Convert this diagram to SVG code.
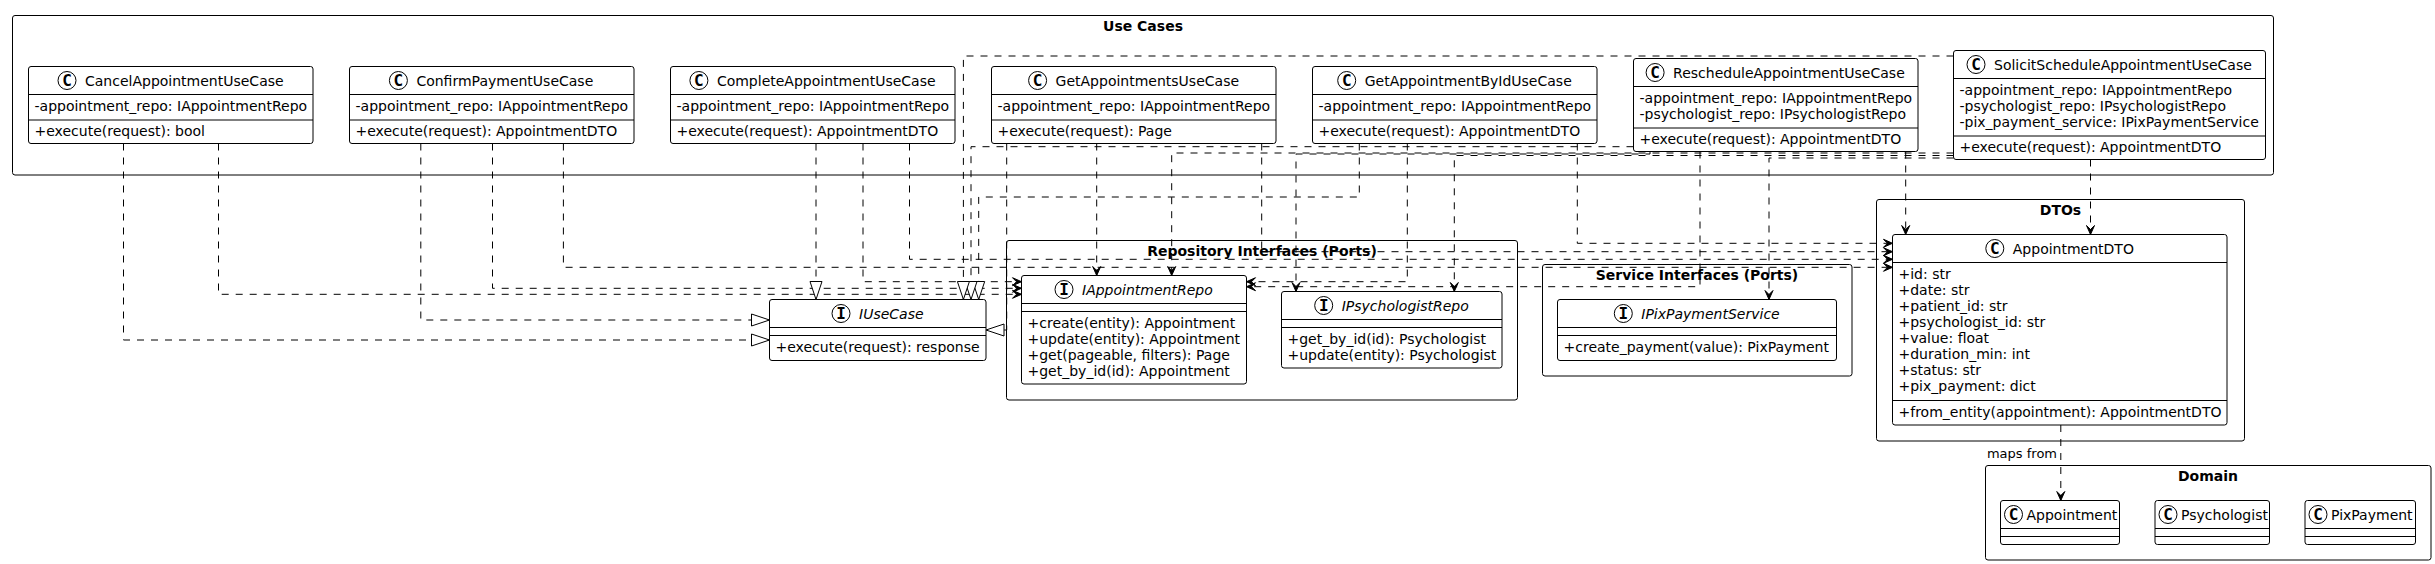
<svg xmlns="http://www.w3.org/2000/svg" width="2435" height="564" viewBox="0 0 2435 564">
<defs>
<style>
text { font-family: "DejaVu Sans", "Liberation Sans", sans-serif; font-size: 14px; fill: #000; }
.t { font-weight: bold; text-anchor: middle; }
.it { font-style: italic; }
.pkg { fill: none; stroke: #000; stroke-width: 1; }
.box { fill: #fff; stroke: #000; stroke-width: 1; }
.sep { stroke: #000; stroke-width: 1; }
.spot { fill: #fff; stroke: #000; stroke-width: 1; }
.sl { font-family: "DejaVu Sans Mono", "Liberation Mono", monospace; font-weight: bold; font-size: 16px; text-anchor: middle; }
.e { fill: none; stroke: #000; stroke-width: 1; stroke-dasharray: 7 7; }
.dep { marker-end: url(#arr); }
.real { marker-end: url(#tri); }
.lbl { font-size: 13px; text-anchor: end; }
</style>
<marker id="arr" markerUnits="userSpaceOnUse" orient="auto" markerWidth="14" markerHeight="12" viewBox="-12 -6 14 12" refX="0" refY="0"><path d="M0,0 L-9,-4 L-5,0 L-9,4 Z" fill="#000" stroke="#000" stroke-width="1" stroke-dasharray="none"/></marker>
<marker id="tri" markerUnits="userSpaceOnUse" orient="auto" markerWidth="22" markerHeight="16" viewBox="-20 -8 22 16" refX="0" refY="0"><path d="M0,0 L-18,-6 L-18,6 Z" fill="#fff" stroke="#000" stroke-width="1" stroke-dasharray="none"/></marker>
</defs>
<rect width="2435" height="564" fill="#fff"/>

<!-- packages -->
<g id="pkg-usecases">
<rect class="pkg" x="12.5" y="15.5" width="2261" height="159.5" rx="2.5"/>
<text class="t" x="1143" y="31">Use Cases</text>
</g>
<g id="pkg-repo">
<rect class="pkg" x="1006.5" y="240.5" width="511" height="159.5" rx="2.5"/>
<text class="t" x="1262" y="256">Repository Interfaces (Ports)</text>
</g>
<g id="pkg-service">
<rect class="pkg" x="1542.5" y="264.5" width="309.5" height="111.5" rx="2.5"/>
<text class="t" x="1697" y="280">Service Interfaces (Ports)</text>
</g>
<g id="pkg-dtos">
<rect class="pkg" x="1876.5" y="199.5" width="368" height="241.5" rx="2.5"/>
<text class="t" x="2060.5" y="215">DTOs</text>
</g>
<g id="pkg-domain">
<rect class="pkg" x="1985.5" y="465.5" width="445.5" height="94.5" rx="2.5"/>
<text class="t" x="2208" y="481">Domain</text>
</g>

<!-- use case classes -->
<g id="CancelAppointmentUseCase">
<rect class="box" x="28.5" y="66.5" width="284.5" height="77" rx="2.5"/>
<line class="sep" x1="28.5" y1="94.5" x2="313" y2="94.5"/>
<line class="sep" x1="28.5" y1="120" x2="313" y2="120"/>
<circle class="spot" cx="67" cy="80.5" r="9"/>
<text class="sl" x="67" y="86.3">C</text>
<text x="85" y="86">CancelAppointmentUseCase</text>
<text x="34.5" y="111">-appointment_repo: IAppointmentRepo</text>
<text x="34.5" y="135.5">+execute(request): bool</text>
</g>
<g id="ConfirmPaymentUseCase">
<rect class="box" x="349.5" y="66.5" width="284.5" height="77" rx="2.5"/>
<line class="sep" x1="349.5" y1="94.5" x2="634" y2="94.5"/>
<line class="sep" x1="349.5" y1="120" x2="634" y2="120"/>
<circle class="spot" cx="398.4" cy="80.5" r="9"/>
<text class="sl" x="398.4" y="86.3">C</text>
<text x="416.4" y="86">ConfirmPaymentUseCase</text>
<text x="355.5" y="111">-appointment_repo: IAppointmentRepo</text>
<text x="355.5" y="135.5">+execute(request): AppointmentDTO</text>
</g>
<g id="CompleteAppointmentUseCase">
<rect class="box" x="670.5" y="66.5" width="284.5" height="77" rx="2.5"/>
<line class="sep" x1="670.5" y1="94.5" x2="955" y2="94.5"/>
<line class="sep" x1="670.5" y1="120" x2="955" y2="120"/>
<circle class="spot" cx="698.9" cy="80.5" r="9"/>
<text class="sl" x="698.9" y="86.3">C</text>
<text x="716.9" y="86">CompleteAppointmentUseCase</text>
<text x="676.5" y="111">-appointment_repo: IAppointmentRepo</text>
<text x="676.5" y="135.5">+execute(request): AppointmentDTO</text>
</g>
<g id="GetAppointmentsUseCase">
<rect class="box" x="991.5" y="66.5" width="284.5" height="77" rx="2.5"/>
<line class="sep" x1="991.5" y1="94.5" x2="1276" y2="94.5"/>
<line class="sep" x1="991.5" y1="120" x2="1276" y2="120"/>
<circle class="spot" cx="1037.6" cy="80.5" r="9"/>
<text class="sl" x="1037.6" y="86.3">C</text>
<text x="1055.6" y="86">GetAppointmentsUseCase</text>
<text x="997.5" y="111">-appointment_repo: IAppointmentRepo</text>
<text x="997.5" y="135.5">+execute(request): Page</text>
</g>
<g id="GetAppointmentByIdUseCase">
<rect class="box" x="1312.5" y="66.5" width="284.5" height="77" rx="2.5"/>
<line class="sep" x1="1312.5" y1="94.5" x2="1597" y2="94.5"/>
<line class="sep" x1="1312.5" y1="120" x2="1597" y2="120"/>
<circle class="spot" cx="1346.7" cy="80.5" r="9"/>
<text class="sl" x="1346.7" y="86.3">C</text>
<text x="1364.7" y="86">GetAppointmentByIdUseCase</text>
<text x="1318.5" y="111">-appointment_repo: IAppointmentRepo</text>
<text x="1318.5" y="135.5">+execute(request): AppointmentDTO</text>
</g>
<g id="RescheduleAppointmentUseCase">
<rect class="box" x="1633.5" y="58.5" width="284.5" height="93" rx="2.5"/>
<line class="sep" x1="1633.5" y1="86.5" x2="1918" y2="86.5"/>
<line class="sep" x1="1633.5" y1="128" x2="1918" y2="128"/>
<circle class="spot" cx="1655.1" cy="72.5" r="9"/>
<text class="sl" x="1655.1" y="78.3">C</text>
<text x="1673.1" y="78">RescheduleAppointmentUseCase</text>
<text x="1639.5" y="103">-appointment_repo: IAppointmentRepo</text>
<text x="1639.5" y="119">-psychologist_repo: IPsychologistRepo</text>
<text x="1639.5" y="143.5">+execute(request): AppointmentDTO</text>
</g>
<g id="SolicitScheduleAppointmentUseCase">
<rect class="box" x="1953.5" y="50.5" width="312" height="109" rx="2.5"/>
<line class="sep" x1="1953.5" y1="78.5" x2="2265.5" y2="78.5"/>
<line class="sep" x1="1953.5" y1="136" x2="2265.5" y2="136"/>
<circle class="spot" cx="1976" cy="64.5" r="9"/>
<text class="sl" x="1976" y="70.3">C</text>
<text x="1994" y="70">SolicitScheduleAppointmentUseCase</text>
<text x="1959.5" y="95">-appointment_repo: IAppointmentRepo</text>
<text x="1959.5" y="111">-psychologist_repo: IPsychologistRepo</text>
<text x="1959.5" y="127">-pix_payment_service: IPixPaymentService</text>
<text x="1959.5" y="151.5">+execute(request): AppointmentDTO</text>
</g>

<!-- interfaces -->
<g id="IUseCase">
<rect class="box" x="769.5" y="299.5" width="216.5" height="61" rx="2.5"/>
<line class="sep" x1="769.5" y1="327.5" x2="986" y2="327.5"/>
<line class="sep" x1="769.5" y1="335.5" x2="986" y2="335.5"/>
<circle class="spot" cx="841" cy="313.5" r="9"/>
<text class="sl" x="841" y="319.3">I</text>
<text class="it" x="859" y="319">IUseCase</text>
<text x="775.5" y="352">+execute(request): response</text>
</g>
<g id="IAppointmentRepo">
<rect class="box" x="1021.5" y="275.5" width="225" height="108.5" rx="2.5"/>
<line class="sep" x1="1021.5" y1="303.5" x2="1246.5" y2="303.5"/>
<line class="sep" x1="1021.5" y1="311.5" x2="1246.5" y2="311.5"/>
<circle class="spot" cx="1064" cy="289.5" r="9"/>
<text class="sl" x="1064" y="295.3">I</text>
<text class="it" x="1082" y="295">IAppointmentRepo</text>
<text x="1027.5" y="328">+create(entity): Appointment</text>
<text x="1027.5" y="344">+update(entity): Appointment</text>
<text x="1027.5" y="360">+get(pageable, filters): Page</text>
<text x="1027.5" y="376">+get_by_id(id): Appointment</text>
</g>
<g id="IPsychologistRepo">
<rect class="box" x="1281.5" y="291.5" width="220.5" height="76.5" rx="2.5"/>
<line class="sep" x1="1281.5" y1="319.5" x2="1502" y2="319.5"/>
<line class="sep" x1="1281.5" y1="327.5" x2="1502" y2="327.5"/>
<circle class="spot" cx="1323.7" cy="305.5" r="9"/>
<text class="sl" x="1323.7" y="311.3">I</text>
<text class="it" x="1341.7" y="311">IPsychologistRepo</text>
<text x="1287.5" y="344">+get_by_id(id): Psychologist</text>
<text x="1287.5" y="360">+update(entity): Psychologist</text>
</g>
<g id="IPixPaymentService">
<rect class="box" x="1557.5" y="299.5" width="279" height="61" rx="2.5"/>
<line class="sep" x1="1557.5" y1="327.5" x2="1836.5" y2="327.5"/>
<line class="sep" x1="1557.5" y1="335.5" x2="1836.5" y2="335.5"/>
<circle class="spot" cx="1623.3" cy="313.5" r="9"/>
<text class="sl" x="1623.3" y="319.3">I</text>
<text class="it" x="1641.3" y="319">IPixPaymentService</text>
<text x="1563.5" y="352">+create_payment(value): PixPayment</text>
</g>

<!-- DTO -->
<g id="AppointmentDTO">
<rect class="box" x="1892.5" y="234.5" width="334.5" height="190.5" rx="2.5"/>
<line class="sep" x1="1892.5" y1="262.5" x2="2227" y2="262.5"/>
<line class="sep" x1="1892.5" y1="400.5" x2="2227" y2="400.5"/>
<circle class="spot" cx="1994.8" cy="248.5" r="9"/>
<text class="sl" x="1994.8" y="254.3">C</text>
<text x="2012.8" y="254">AppointmentDTO</text>
<text x="1898.5" y="279">+id: str</text>
<text x="1898.5" y="295">+date: str</text>
<text x="1898.5" y="311">+patient_id: str</text>
<text x="1898.5" y="327">+psychologist_id: str</text>
<text x="1898.5" y="343">+value: float</text>
<text x="1898.5" y="359">+duration_min: int</text>
<text x="1898.5" y="375">+status: str</text>
<text x="1898.5" y="391">+pix_payment: dict</text>
<text x="1898.5" y="416.5">+from_entity(appointment): AppointmentDTO</text>
</g>

<!-- domain -->
<g id="Appointment">
<rect class="box" x="2000.5" y="500.5" width="119" height="44" rx="2.5"/>
<line class="sep" x1="2000.5" y1="528.5" x2="2119.5" y2="528.5"/>
<line class="sep" x1="2000.5" y1="536.5" x2="2119.5" y2="536.5"/>
<circle class="spot" cx="2013.5" cy="514.5" r="9"/>
<text class="sl" x="2013.5" y="520.3">C</text>
<text x="2026.5" y="520">Appointment</text>
</g>
<g id="Psychologist">
<rect class="box" x="2155" y="500.5" width="114.5" height="44" rx="2.5"/>
<line class="sep" x1="2155" y1="528.5" x2="2269.5" y2="528.5"/>
<line class="sep" x1="2155" y1="536.5" x2="2269.5" y2="536.5"/>
<circle class="spot" cx="2168" cy="514.5" r="9"/>
<text class="sl" x="2168" y="520.3">C</text>
<text x="2181" y="520">Psychologist</text>
</g>
<g id="PixPayment">
<rect class="box" x="2305" y="500.5" width="110.5" height="44" rx="2.5"/>
<line class="sep" x1="2305" y1="528.5" x2="2415.5" y2="528.5"/>
<line class="sep" x1="2305" y1="536.5" x2="2415.5" y2="536.5"/>
<circle class="spot" cx="2318" cy="514.5" r="9"/>
<text class="sl" x="2318" y="520.3">C</text>
<text x="2331" y="520">PixPayment</text>
</g>

<!-- connectors -->
<g id="connectors">
<path class="e real" d="M123.5,143.5 V340 H769.5"/>
<path class="e dep" d="M218.5,143.5 V294.3 H1021.5"/>
<path class="e real" d="M420.8,143.5 V320 H769.5"/>
<path class="e dep" d="M492.5,143.5 V288.3 H1021.5"/>
<path class="e dep" d="M563.4,143.5 V267.3 H1892.5"/>
<path class="e real" d="M816,143.5 V299.5"/>
<path class="e dep" d="M863,143.5 V281.7 H1021.5"/>
<path class="e dep" d="M909.5,143.5 V259.3 H1892.5"/>
<path class="e real" d="M1006.7,143.5 V330 H986"/>
<path class="e dep" d="M1096.7,143.5 V275.5"/>
<path class="e dep" d="M1261.7,143.5 V251.7 H1892.5"/>
<path class="e real" d="M1359.3,143.5 V197 H978.7 V299.5"/>
<path class="e dep" d="M1407.3,143.5 V281.7 H1246.5"/>
<path class="e dep" d="M1577.3,143.5 V243.3 H1892.5"/>
<path class="e real" d="M1633.5,146.7 H971 V299.5"/>
<path class="e dep" d="M1700,151.5 V286.7 H1246.5"/>
<path class="e dep" d="M1650,151.5 V154 H1296 V291.5"/>
<path class="e dep" d="M1905.7,151.5 V234.5"/>
<path class="e real" d="M1953.5,56 H963.4 V299.5"/>
<path class="e dep" d="M1953.5,153 H1171.7 V275.5"/>
<path class="e dep" d="M1953.5,155.5 H1454.3 V291.5"/>
<path class="e dep" d="M1953.5,158 H1769 V299.5"/>
<path class="e dep" d="M2090.5,159.5 V234.5"/>
<path class="e dep" d="M2060.8,425 V500.5"/>
<text class="lbl" x="2057" y="458">maps from</text>
</g>
</svg>
